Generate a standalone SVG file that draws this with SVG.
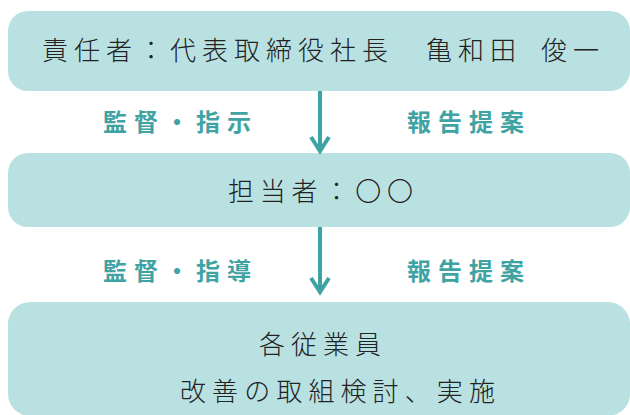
<svg xmlns="http://www.w3.org/2000/svg" width="630" height="415" viewBox="0 0 630 415">
<style>
.box{fill:#b9e1e2}
.t{font-family:"Noto Sans CJK JP","Noto Sans CJK SC",sans-serif;font-size:26px;font-weight:300;fill:#222}
.lb{font-family:"Noto Sans CJK JP","Noto Sans CJK SC",sans-serif;font-size:24px;font-weight:700;fill:#3fa3a3;letter-spacing:7px}
.ar{stroke:#3fa3a3;stroke-width:4;fill:none;stroke-linecap:butt;stroke-linejoin:miter}
</style>
<rect width="630" height="415" fill="#fff"/>
<g id="node-top">
<rect class="box" x="8" y="11" width="622" height="80" rx="20"/>
<text class="t" x="42" y="60" letter-spacing="6">責任者：代表取締役社長　亀和田&#8194;俊一</text>
</g>
<g id="node-mid">
<rect class="box" x="8" y="153" width="622" height="74" rx="20"/>
<text class="t" x="228" y="201" letter-spacing="5.8">担当者：〇〇</text>
</g>
<g id="node-bottom">
<rect class="box" x="8" y="302" width="622" height="114" rx="22"/>
<text class="t" x="259" y="354" letter-spacing="6">各従業員</text>
<text class="t" x="180" y="401" letter-spacing="6.1">改善の取組検討、実施</text>
</g>
<g id="connectors">
<path class="ar" d="M320,91 V151 M311,137 L320,151 L329,137"/>
<path class="ar" d="M320,227 V293 M311,278 L320,292 L329,278"/>
<text class="lb" x="103" y="131">監督・指示</text>
<text class="lb" x="407" y="131">報告提案</text>
<text class="lb" x="103" y="280">監督・指導</text>
<text class="lb" x="407" y="280">報告提案</text>
</g>
</svg>
